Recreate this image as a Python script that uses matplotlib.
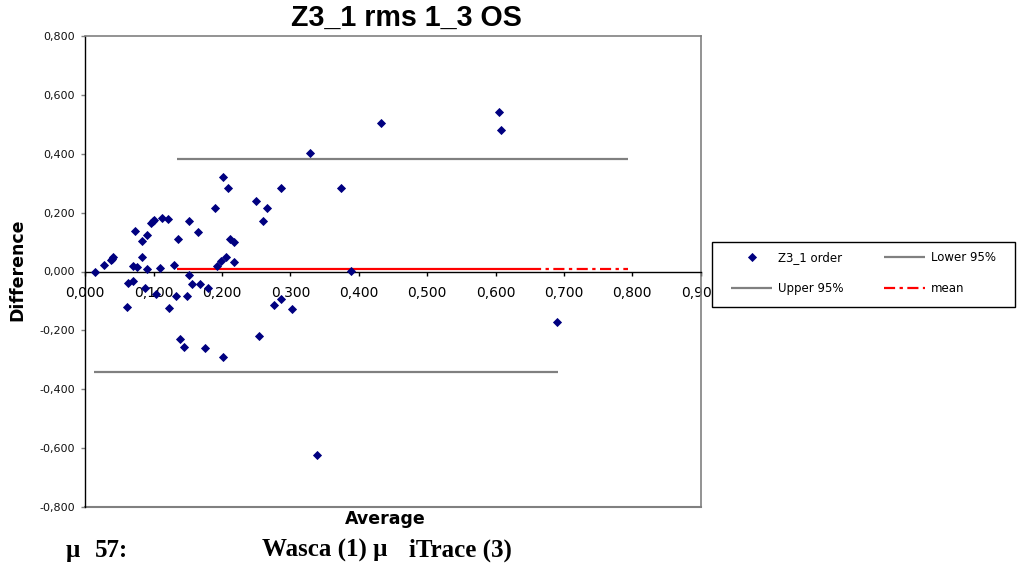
import matplotlib
matplotlib.use("Agg")
import matplotlib.pyplot as plt
from matplotlib.ticker import FuncFormatter
from matplotlib.patches import Rectangle

# Bland-Altman data: mean of the two instruments vs. their difference
avg = [0.014, 0.027, 0.037, 0.039, 0.041, 0.061, 0.062, 0.070, 0.070, 0.073,
       0.076, 0.083, 0.083, 0.088, 0.090, 0.090, 0.096, 0.099, 0.100, 0.104,
       0.109, 0.112, 0.121, 0.122, 0.130, 0.133, 0.136, 0.138, 0.144, 0.149,
       0.151, 0.152, 0.156, 0.165, 0.168, 0.175, 0.179, 0.190, 0.192, 0.198,
       0.202, 0.202, 0.206, 0.208, 0.211, 0.218, 0.218, 0.250, 0.254, 0.260,
       0.265, 0.276, 0.286, 0.286, 0.303, 0.329, 0.339, 0.374, 0.389, 0.433,
       0.605, 0.608, 0.690]
diff = [0.000, 0.022, 0.040, 0.044, 0.048, -0.121, -0.039, -0.032, 0.018, 0.139,
        0.016, 0.102, 0.050, -0.056, 0.125, 0.009, 0.164, 0.173, 0.176, -0.077,
        0.012, 0.182, 0.180, -0.124, 0.022, -0.083, 0.109, -0.230, -0.257, -0.083,
        -0.012, 0.173, -0.042, 0.135, -0.042, -0.261, -0.056, 0.215, 0.018, 0.034,
        0.322, -0.289, 0.048, 0.285, 0.111, 0.099, 0.032, 0.238, -0.218, 0.173,
        0.215, -0.114, 0.285, -0.095, -0.129, 0.402, -0.625, 0.285, 0.001, 0.505,
        0.543, 0.479, -0.171]

upper_val = 0.382
lower_val = -0.343
mean_val = 0.007
upper_x = [0.134, 0.793]
lower_x = [0.013, 0.691]
mean_x = [0.134, 0.650, 0.793]   # solid stretch, then dash-dot stretch

xticks = [i / 10 for i in range(10)]
yticks = [-0.8, -0.6, -0.4, -0.2, 0.0, 0.2, 0.4, 0.6, 0.8]

W, H = 1017, 565
fig = plt.figure(figsize=(W / 100, H / 100), dpi=100)
fig.patch.set_facecolor("white")

ax = fig.add_axes([85.3 / W, 1 - 507 / H, (700.7 - 85.3) / W, (507 - 36) / H])
ax.set_xlim(0, 0.9)
ax.set_ylim(-0.8, 0.8)

gray = "#808080"
navy = "#000080"

up_line, = ax.plot(upper_x, [upper_val] * 2, color=gray, lw=1.6,
                   solid_capstyle="butt", zorder=2)
lo_line, = ax.plot(lower_x, [lower_val] * 2, color=gray, lw=1.6,
                   solid_capstyle="butt", zorder=2)
ax.plot(mean_x[:2], [mean_val] * 2, color="#FF0000", lw=1.6,
        solid_capstyle="butt", zorder=2)
mean_line, = ax.plot(mean_x[1:], [mean_val] * 2, color="#FF0000", lw=1.6,
                     dashes=(5, 2, 1.5, 2), zorder=2)
pts, = ax.plot(avg, diff, linestyle="none", marker="D", ms=3.9,
               color=navy, mec=navy, mew=0.6, zorder=3)

fmt = FuncFormatter(lambda v, p: f"{v:.3f}".replace(".", ","))
ax.set_xticks(xticks)
ax.set_yticks(yticks)
ax.xaxis.set_major_formatter(fmt)
ax.yaxis.set_major_formatter(fmt)

for lab in ax.get_xticklabels() + ax.get_yticklabels():
    lab.set_fontfamily("DejaVu Sans")
    lab.set_fontsize(8)
    lab.set_color("#111111")
ax.tick_params(axis="x", direction="out", length=3.2, width=1, pad=7.5, colors="black")
ax.tick_params(axis="y", direction="out", length=3.2, width=1, pad=4.5, colors=gray,
               labelcolor="#111111")

ax.spines["left"].set_color("black")
ax.spines["left"].set_linewidth(1.0)
ax.spines["bottom"].set_position(("data", 0))
ax.spines["bottom"].set_color("black")
ax.spines["bottom"].set_linewidth(1.0)
for s in ("top", "right"):
    ax.spines[s].set_color(gray)
    ax.spines[s].set_linewidth(1.2)
ax.axhline(-0.8, color=gray, lw=1.5, clip_on=False, zorder=1)

# Titles and axis captions
fig.text(406 / W, 1 - 18 / H, "Z3_1 rms 1_3 OS", ha="center", va="center",
         fontsize=20.6, fontweight="bold", family="Liberation Sans")
fig.text(17 / W, 1 - 270 / H, "Difference", rotation=90, ha="center", va="center",
         fontsize=12.5, fontweight="bold", family="DejaVu Sans")
fig.text(385 / W, 1 - 519 / H, "Average", ha="center", va="center",
         fontsize=12.5, fontweight="bold", family="DejaVu Sans")

cap = {"fontsize": 18, "fontweight": "bold", "family": "Liberation Serif",
       "va": "baseline"}
base = 1 - 557 / H
fig.text(66 / W, base, "μ", ha="left", **cap)
fig.text(95 / W, base, "57:", ha="left", **cap)
fig.text(262 / W, base, "Wasca (1) μ", ha="left", **cap)
fig.text(512 / W, base, "iTrace (3)", ha="right", **cap)

# Legend box (white, black border) sits over the right end of the x axis
fig.add_artist(Rectangle((712 / W, 1 - 307 / H), 303 / W, 65 / H,
                         transform=fig.transFigure, facecolor="white",
                         edgecolor="black", linewidth=1.0, zorder=9))
leg = fig.legend([pts, up_line, lo_line, mean_line],
                 ["Z3_1 order", "Upper 95%", "Lower 95%", "mean"],
                 ncol=2, loc="center",
                 bbox_to_anchor=(863.5 / W, 1 - 273 / H),
                 prop={"family": "DejaVu Sans", "size": 8.5},
                 handlelength=3.5, handletextpad=0.5, labelspacing=1.55,
                 borderpad=1.0, borderaxespad=0, columnspacing=3.4,
                 frameon=False)
leg.set_zorder(10)

fig.savefig("out.png", dpi=100, facecolor="white")
